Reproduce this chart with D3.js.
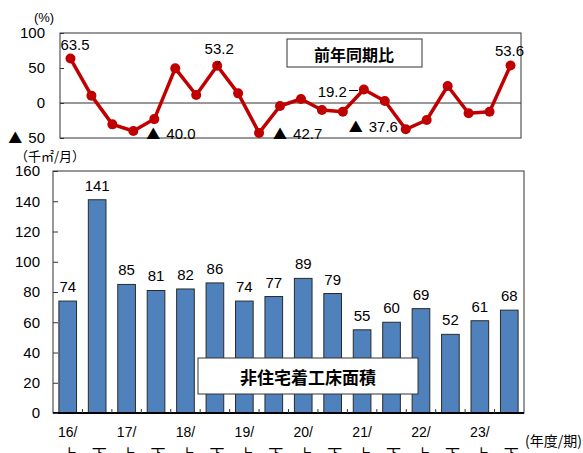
<!DOCTYPE html>
<html>
<head>
<meta charset="utf-8">
<script src="https://cdn.jsdelivr.net/npm/d3@7"></script>
<style>
  html, body { margin: 0; padding: 0; background: #fff; }
  svg { display: block; }
  text { font-family: "Liberation Sans", Arial, sans-serif; fill: #000; }
  .cjk { font-family: "Noto Sans CJK JP", sans-serif; }
</style>
</head>
<body>
<script>
// Year-over-year change (%) by half-year period
const yoyValues = [63.5, 10.5, -30.5, -40.0, -23.0, 49.5, 11.4, 53.2, 13.8, -42.7, -4.3,
                   5.7, -10.0, -12.4, 19.2, 2.9, -37.6, -24.3, 24.3, -14.7, -12.4, 53.6];
const yoyTicks = [100, 50, 0, -50];

// Non-residential floor area started (thousand m² per month)
const periods = ["16上","16下","17上","17下","18上","18下","19上","19下",
                 "20上","20下","21上","21下","22上","22下","23上","23下"];
const yearLabels = ["16/","","17/","","18/","","19/","","20/","","21/","","22/","","23/",""];
const halfLabels = ["上","下","上","下","上","下","上","下","上","下","上","下","上","下","上","下"];
const areaValues = [74, 141, 85, 81, 82, 86, 74, 77, 89, 79, 55, 60, 69, 52, 61, 68];
const areaTicks = [0, 20, 40, 60, 80, 100, 120, 140, 160];

const W = 583, H = 453;
const svg = d3.select("body").append("svg").attr("width", W).attr("height", H);

// Writes a number into a text node, negatives as a "▲" mark plus magnitude
function writeSigned(sel, v, digits) {
  const mag = digits == null ? String(Math.abs(v)) : Math.abs(v).toFixed(digits);
  sel.text(null);
  if (v < 0) {
    sel.append("tspan").attr("class", "cjk").attr("font-size", 14).text("▲");
    sel.append("tspan").attr("dx", 6).text(mag);
  } else {
    sel.append("tspan").text(mag);
  }
}

// ---------- Upper panel: YoY line ----------
const upper = { left: 60, right: 521, top: 33, bottom: 138 };
const xTop = d3.scalePoint().domain(d3.range(yoyValues.length)).range([upper.left, upper.right]).padding(0.5);
const yTop = d3.scaleLinear().domain([-50, 100]).range([upper.bottom, upper.top]);

const gTop = svg.append("g");
gTop.append("rect")
  .attr("x", upper.left).attr("y", upper.top)
  .attr("width", upper.right - upper.left).attr("height", upper.bottom - upper.top)
  .attr("fill", "none").attr("stroke", "#333").attr("stroke-width", 1);

gTop.append("line")
  .attr("x1", upper.left).attr("x2", upper.right)
  .attr("y1", yTop(0)).attr("y2", yTop(0))
  .attr("stroke", "#333").attr("stroke-width", 1);

const axTop = gTop.append("g").attr("transform", `translate(${upper.left},0)`)
  .call(d3.axisLeft(yTop).tickValues(yoyTicks)
    .tickSizeInner(-4).tickSizeOuter(0).tickPadding(15));
axTop.select(".domain").remove();
axTop.selectAll("line").attr("stroke", "#333");
axTop.selectAll("text")
  .attr("font-size", 15).attr("font-family", "Liberation Sans, Arial, sans-serif").attr("fill", "#000")
  .each(function (d) { writeSigned(d3.select(this), d); });

svg.append("text").attr("x", 44).attr("y", 22).attr("text-anchor", "middle")
  .attr("font-size", 13).text("(%)");

gTop.append("path").datum(yoyValues)
  .attr("fill", "none").attr("stroke", "#c00000").attr("stroke-width", 3.5)
  .attr("stroke-linejoin", "round")
  .attr("d", d3.line().x((d, i) => xTop(i)).y(d => yTop(d)));

gTop.selectAll("circle.pt").data(yoyValues).join("circle")
  .attr("class", "pt")
  .attr("cx", (d, i) => xTop(i)).attr("cy", d => yTop(d)).attr("r", 5)
  .attr("fill", "#c00000");

// Value labels for the notable points
const yoyLabelSpec = [
  { i: 0,  dx: 4.5, dy: -14.5, anchor: "middle" },
  { i: 3,  dx: 13,  dy: 2,     anchor: "start" },
  { i: 7,  dx: 2,   dy: -17.5, anchor: "middle", lead: [[217, 65], [220, 61]] },
  { i: 9,  dx: 14,  dy: 0,     anchor: "start" },
  { i: 14, dx: -17, dy: 1,     anchor: "end", lead: [[349, 90.5], [358, 90.5]] },
  { i: 16, dx: -57, dy: -3.5,  anchor: "start" },
  { i: 21, dx: -1,  dy: -15.5, anchor: "middle" }
];
yoyLabelSpec.forEach(s => {
  const v = yoyValues[s.i];
  const x = xTop(s.i), y = yTop(v);
  if (s.lead) {
    gTop.append("line")
      .attr("x1", s.lead[0][0]).attr("y1", s.lead[0][1])
      .attr("x2", s.lead[1][0]).attr("y2", s.lead[1][1])
      .attr("stroke", "#000").attr("stroke-width", 1);
  }
  gTop.append("text")
    .attr("x", x + s.dx).attr("y", y + s.dy)
    .attr("text-anchor", s.anchor).attr("font-size", 15)
    .attr("dominant-baseline", "central")
    .call(t => writeSigned(t, v, 1));
});

// Legend box
gTop.append("rect").attr("x", 287).attr("y", 39).attr("width", 135).attr("height", 28)
  .attr("fill", "#fff").attr("stroke", "#333").attr("stroke-width", 1);
gTop.append("text").attr("class", "cjk")
  .attr("x", 354).attr("y", 54).attr("text-anchor", "middle").attr("dominant-baseline", "central")
  .attr("font-size", 16).attr("font-weight", "bold").text("前年同期比");

// ---------- Lower panel: floor area bars ----------
const lower = { left: 53, right: 524, top: 171, bottom: 413 };
const xBot = d3.scaleBand().domain(periods).range([lower.left, lower.right])
  .paddingInner(0.4).paddingOuter(0.2);
const yBot = d3.scaleLinear().domain([0, 160]).range([lower.bottom, lower.top]);

const gBot = svg.append("g");

gBot.selectAll("rect.bar").data(areaValues).join("rect")
  .attr("class", "bar")
  .attr("x", (d, i) => xBot(periods[i]))
  .attr("y", d => yBot(d))
  .attr("width", xBot.bandwidth())
  .attr("height", d => yBot(0) - yBot(d))
  .attr("fill", "#4f81bd").attr("stroke", "#2a2a2a").attr("stroke-width", 1);

gBot.selectAll("text.val").data(areaValues).join("text")
  .attr("class", "val")
  .attr("x", (d, i) => xBot(periods[i]) + xBot.bandwidth() / 2)
  .attr("y", d => yBot(d) - 9)
  .attr("text-anchor", "middle").attr("font-size", 15)
  .text(d => d);

// Frame
gBot.append("rect")
  .attr("x", lower.left).attr("y", lower.top)
  .attr("width", lower.right - lower.left).attr("height", lower.bottom - lower.top)
  .attr("fill", "none").attr("stroke", "#333").attr("stroke-width", 1);
gBot.append("line").attr("x1", lower.left).attr("x2", lower.right)
  .attr("y1", lower.bottom).attr("y2", lower.bottom)
  .attr("stroke", "#000").attr("stroke-width", 2);

// Small category ticks between bars
const step = xBot.step();
gBot.selectAll("line.ct").data(d3.range(1, periods.length)).join("line")
  .attr("class", "ct")
  .attr("x1", k => lower.left + k * step).attr("x2", k => lower.left + k * step)
  .attr("y1", lower.bottom).attr("y2", lower.bottom - 4)
  .attr("stroke", "#333").attr("stroke-width", 1);

const axBot = gBot.append("g").attr("transform", `translate(${lower.left},0)`)
  .call(d3.axisLeft(yBot).tickValues(areaTicks).tickFormat(d3.format("d"))
    .tickSizeInner(-5).tickSizeOuter(0).tickPadding(13));
axBot.select(".domain").remove();
axBot.selectAll("line").attr("stroke", "#333");
axBot.selectAll("text").attr("font-size", 15).attr("font-family", "Liberation Sans, Arial, sans-serif").attr("fill", "#000");

svg.append("text").attr("class", "cjk").attr("x", 15).attr("y", 161)
  .attr("font-size", 13).text("（千㎡/月）");

// Category labels
gBot.selectAll("text.yr").data(yearLabels).join("text")
  .attr("class", "yr")
  .attr("x", (d, i) => xBot(periods[i]) + xBot.bandwidth() / 2)
  .attr("y", 437).attr("text-anchor", "middle").attr("font-size", 14)
  .text(d => d);
gBot.selectAll("text.hf").data(halfLabels).join("text")
  .attr("class", "hf cjk")
  .attr("x", (d, i) => xBot(periods[i]) + xBot.bandwidth() / 2 + 2)
  .attr("y", 460).attr("text-anchor", "middle").attr("font-size", 15)
  .text(d => d);
svg.append("text").attr("class", "cjk").attr("x", 525).attr("y", 446)
  .attr("font-size", 14).text("(年度/期)");

// Legend box
gBot.append("rect").attr("x", 198).attr("y", 358).attr("width", 220).attr("height", 36)
  .attr("fill", "#fff").attr("stroke", "#333").attr("stroke-width", 1);
gBot.append("text").attr("class", "cjk")
  .attr("x", 308).attr("y", 376).attr("text-anchor", "middle").attr("dominant-baseline", "central")
  .attr("font-size", 17).attr("font-weight", "bold").text("非住宅着工床面積");
</script>
</body>
</html>
